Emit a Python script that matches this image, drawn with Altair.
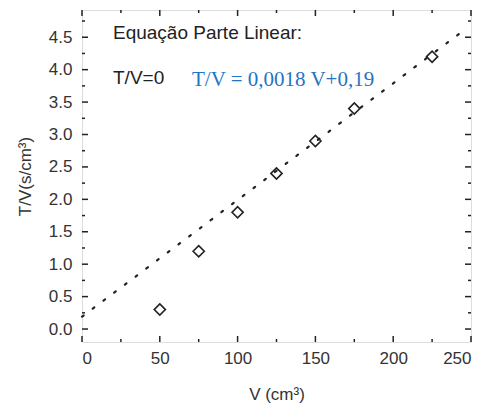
import altair as alt
import pandas as pd

# data
vol = [50, 75, 100, 125, 150, 175, 225]
tv = [0.30, 1.20, 1.80, 2.40, 2.90, 3.40, 4.20]

fit_x = [0, 245]
fit_y = [0.19, 4.60]

x_major = [0, 50, 100, 150, 200, 250]
x_minor = [25, 75, 125, 175, 225]
y_major = [0.0, 0.5, 1.0, 1.5, 2.0, 2.5, 3.0, 3.5, 4.0, 4.5]
y_minor = [0.25, 0.75, 1.25, 1.75, 2.25, 2.75, 3.25, 3.75, 4.25, 4.75]

W, H = 389, 332
FONT = "Liberation Sans"
X_SCALE = alt.Scale(domain=[0, 250], nice=False, zero=False)
Y_SCALE = alt.Scale(domain=[-0.2, 4.92], nice=False, zero=False)

pts = pd.DataFrame({"V": vol, "TV": tv})
fit = pd.DataFrame({"V": fit_x, "TV": fit_y})

x_axis = alt.Axis(values=x_major, ticks=False, tickSize=0, domain=False, grid=False,
                  labelOverlap=False, labelFont=FONT, labelFontSize=17,
                  labelColor="#333", labelPadding=8, title="V (cm³)",
                  titleFont=FONT, titleFontSize=17, titleFontWeight="normal",
                  titleColor="#333", titlePadding=20)
y_axis = alt.Axis(values=y_major, ticks=False, tickSize=0, domain=False, grid=False,
                  labelOverlap=False, format=".1f", labelFont=FONT, labelFontSize=17,
                  labelColor="#333", labelPadding=10, title="T/V(s/cm³)",
                  titleFont=FONT, titleFontSize=17, titleFontWeight="normal",
                  titleColor="#333", titlePadding=14)

line = alt.Chart(fit).mark_line(color="#222", strokeWidth=2.2,
                                strokeDash=[2, 11.4], strokeCap="round").encode(
    x=alt.X("V:Q", scale=X_SCALE, axis=x_axis),
    y=alt.Y("TV:Q", scale=Y_SCALE, axis=y_axis),
)

points = alt.Chart(pts).mark_point(shape="diamond", size=125, filled=False,
                                   color="#222", strokeWidth=1.6, opacity=1).encode(
    x=alt.X("V:Q", scale=X_SCALE, axis=x_axis),
    y=alt.Y("TV:Q", scale=Y_SCALE, axis=y_axis),
)


def xticks(vals, length):
    d = pd.DataFrame({"t": vals})
    bot = alt.Chart(d).mark_rule(color="#222", strokeWidth=1.5).encode(
        x=alt.X("t:Q", scale=X_SCALE, axis=x_axis), y=alt.value(H),
        y2=alt.value(H - length))
    top = alt.Chart(d).mark_rule(color="#222", strokeWidth=1.5).encode(
        x=alt.X("t:Q", scale=X_SCALE, axis=x_axis), y=alt.value(0),
        y2=alt.value(length))
    return [bot, top]


def yticks(vals, length):
    d = pd.DataFrame({"t": vals})
    left = alt.Chart(d).mark_rule(color="#222", strokeWidth=1.5).encode(
        y=alt.Y("t:Q", scale=Y_SCALE, axis=y_axis), x=alt.value(0),
        x2=alt.value(length))
    right = alt.Chart(d).mark_rule(color="#222", strokeWidth=1.5).encode(
        y=alt.Y("t:Q", scale=Y_SCALE, axis=y_axis), x=alt.value(W),
        x2=alt.value(W - length))
    return [left, right]


tick_layers = xticks(x_major, 6) + xticks(x_minor, 3) + yticks(y_major, 6) + yticks(y_minor, 3)

label_df = pd.DataFrame({"a": [0]})
t1 = alt.Chart(label_df).mark_text(text="Equação Parte Linear:", align="left",
                                   baseline="middle", font=FONT, fontSize=19,
                                   color="#222").encode(x=alt.value(31), y=alt.value(23))
t2 = alt.Chart(label_df).mark_text(text="T/V=0", align="left", baseline="middle",
                                   font=FONT, fontSize=19, color="#222").encode(
    x=alt.value(31), y=alt.value(68))
t3 = alt.Chart(label_df).mark_text(text="T/V = 0,0018 V+0,19", align="left",
                                   baseline="middle", font="Liberation Serif",
                                   fontSize=21, color="#1f74c4").encode(
    x=alt.value(110), y=alt.value(70))

chart = alt.layer(line, points, *tick_layers, t1, t2, t3).properties(
    width=W, height=H,
    autosize=alt.AutoSizeParams(type="none"),
    padding={"left": 74, "top": 2, "right": 10, "bottom": 62},
).configure_view(stroke="#222", strokeWidth=1.8).configure(background="white")

chart.save("out.html", embed_options={"renderer": "svg", "actions": False})
